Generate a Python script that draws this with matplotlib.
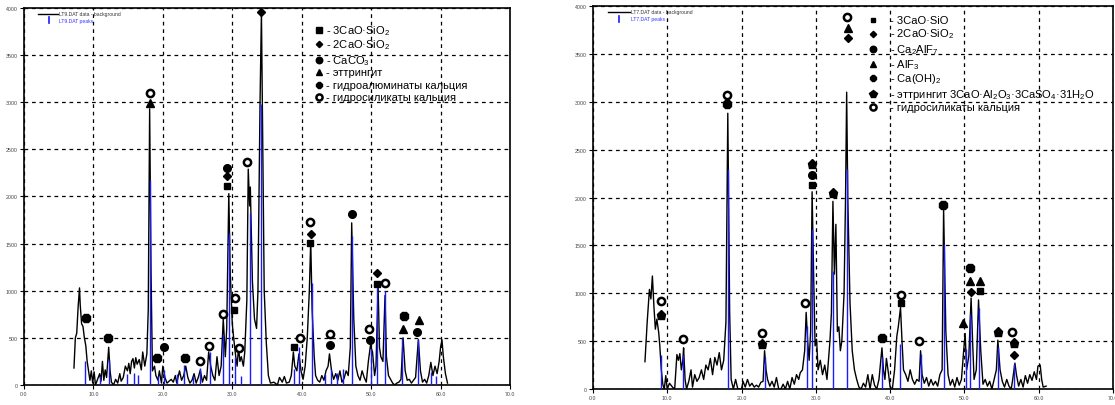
import numpy as np
import matplotlib.pyplot as plt

plt.rcParams['font.family'] = ['Liberation Sans', 'DejaVu Sans']
plt.rcParams['mathtext.fontset'] = 'custom'
plt.rcParams['mathtext.rm'] = 'Liberation Sans'
plt.rcParams['mathtext.default'] = 'regular'

# ---- LT9 sample (left) : measured curve (2theta, counts) ----
lt9_curve = [
    (7.2, 180), (7.4, 500), (7.6, 550), (7.8, 830), (8.0, 1030), (8.1, 850), (8.3, 650),
    (8.5, 620), (8.7, 500), (8.9, 420), (9.1, 250), (9.3, 150), (9.5, 50), (9.7, 150),
    (9.9, 20), (10.1, 140), (10.3, 0), (10.6, 60), (10.9, 120), (11.1, 40), (11.3, 250),
    (11.5, 50), (11.7, 160), (11.9, 80), (12.2, 400), (12.4, 150), (12.6, 30), (12.9, 0),
    (13.2, 60), (13.5, 20), (13.8, 120), (14.0, 40), (14.3, 80), (14.6, 200), (14.9, 150),
    (15.1, 230), (15.3, 120), (15.5, 250), (15.7, 280), (15.9, 180), (16.1, 290), (16.3, 220),
    (16.6, 270), (16.9, 160), (17.1, 350), (17.4, 200), (17.7, 330), (17.9, 800), (18.1, 2930),
    (18.3, 1200), (18.5, 150), (18.8, 200), (19.0, 100), (19.3, 50), (19.5, 150), (19.8, 20),
    (20.0, 200), (20.3, 80), (20.6, 20), (20.9, 40), (21.2, 60), (21.5, 30), (21.8, 100),
    (22.0, 20), (22.4, 150), (22.7, 50), (23.0, 100), (23.3, 200), (23.6, 80), (23.9, 20),
    (24.2, 50), (24.5, 120), (24.8, 20), (25.1, 80), (25.4, 160), (25.7, 30), (26.0, 100),
    (26.3, 50), (26.6, 350), (26.9, 200), (27.2, 100), (27.5, 50), (27.8, 300), (28.1, 100),
    (28.4, 200), (28.7, 700), (29.0, 300), (29.2, 600), (29.5, 2030), (29.7, 1200), (30.0, 650),
    (30.2, 500), (30.5, 300), (30.7, 200), (30.9, 400), (31.1, 250), (31.3, 300), (31.6, 200),
    (31.8, 350), (32.1, 900), (32.3, 2290), (32.5, 1900), (32.6, 2100), (32.9, 1100), (33.2, 700),
    (33.5, 600), (33.7, 1000), (34.0, 3000), (34.2, 3950), (34.4, 2500), (34.6, 1000), (34.9, 450),
    (35.2, 100), (35.5, 20), (36.0, 30), (36.5, 0), (36.8, 80), (37.2, 30), (37.5, 90),
    (37.8, 20), (38.2, 30), (38.5, 100), (38.8, 350), (39.0, 200), (39.3, 150), (39.6, 330),
    (39.9, 150), (40.2, 60), (40.5, 200), (40.8, 500), (41.1, 1000), (41.3, 1530), (41.5, 800),
    (41.8, 300), (42.0, 100), (42.3, 50), (42.6, 30), (42.9, 100), (43.2, 50), (43.5, 150),
    (43.8, 200), (44.0, 330), (44.3, 150), (44.6, 60), (44.9, 120), (45.2, 50), (45.5, 150),
    (45.8, 30), (46.1, 70), (46.4, 150), (46.7, 100), (47.0, 400), (47.2, 1720), (47.5, 700),
    (47.8, 200), (48.1, 100), (48.4, 50), (48.7, 150), (49.0, 80), (49.3, 30), (49.6, 250),
    (49.9, 420), (50.2, 350), (50.5, 100), (50.7, 200), (51.0, 1050), (51.2, 400), (51.4, 300),
    (51.7, 250), (52.0, 950), (52.2, 300), (52.5, 100), (52.8, 60), (53.1, 20), (53.4, 0),
    (53.7, 20), (54.0, 30), (54.3, 60), (54.6, 500), (54.9, 150), (55.2, 50), (55.5, 60),
    (55.8, 20), (56.1, 50), (56.4, 80), (56.8, 480), (57.1, 150), (57.4, 30), (57.7, 60),
    (58.0, 20), (58.3, 100), (58.6, 240), (58.9, 100), (59.2, 200), (59.5, 120), (59.8, 250),
    (60.0, 400), (60.2, 480), (60.4, 300), (60.7, 120), (61.0, 20),
]
lt9_peaks = [
    (8.85, 250), (11.0, 100), (12.3, 260), (14.9, 120), (15.8, 130), (16.4, 110), (18.1, 2180),
    (19.3, 100), (20.1, 160), (22.1, 120), (23.1, 210), (24.4, 100), (25.35, 175), (26.75, 350),
    (28.7, 540), (29.6, 1615), (30.45, 300), (31.2, 100), (32.5, 1825), (34.2, 2980), (38.9, 170),
    (39.6, 400), (41.45, 1085), (43.3, 120), (44.2, 170), (45.1, 130), (45.95, 170), (47.3, 1580),
    (50.0, 380), (50.9, 1030), (51.95, 1000), (54.5, 500), (56.7, 485), (58.65, 140), (59.3, 100),
]
lt9_c3s = [(29.3, 2114), (30.25, 800), (38.9, 398), (41.2, 1508), (50.8, 1075)]
lt9_c2s = [(29.3, 2220), (34.1, 3957), (41.35, 1603), (50.8, 1191)]
lt9_caco3 = [(20.1, 398), (29.3, 2300), (44.05, 426), (47.3, 1811), (49.85, 479), (56.65, 567)]
lt9_ettr = [(18.1, 2988), (54.6, 599), (56.9, 687)]
lt9_hydroal = [(8.95, 708), (12.1, 497), (19.15, 285), (23.2, 285), (54.8, 733)]
lt9_csh = [(18.1, 3094), (25.3, 250), (26.6, 412), (28.6, 750), (30.35, 927), (31.0, 388),
           (32.1, 2368), (39.8, 497), (41.25, 1727), (44.05, 546), (49.7, 592), (51.95, 1078)]

# ---- LT7 sample (right) ----
lt7_curve = [
    (7.0, 285), (7.3, 700), (7.6, 1040), (7.8, 940), (8.0, 1180), (8.2, 870), (8.4, 625),
    (8.6, 730), (8.85, 590), (9.0, 450), (9.2, 200), (9.4, 50), (9.6, 0), (9.8, 140),
    (10.0, 0), (10.3, 60), (10.7, 20), (11.0, 0), (11.3, 360), (11.5, 300), (11.7, 370),
    (11.9, 200), (12.1, 300), (12.2, 430), (12.4, 100), (12.6, 0), (12.9, 80), (13.2, 200),
    (13.4, 20), (13.7, 150), (14.0, 80), (14.3, 120), (14.6, 200), (14.9, 100), (15.2, 250),
    (15.5, 200), (15.8, 320), (16.1, 150), (16.4, 330), (16.7, 250), (17.0, 380), (17.3, 200),
    (17.6, 300), (17.9, 700), (18.15, 2880), (18.4, 800), (18.6, 100), (18.9, 0), (19.2, 100),
    (19.5, 0), (20.0, 0), (20.2, 80), (20.5, 20), (20.8, 100), (21.1, 30), (21.4, 60),
    (21.7, 20), (22.0, 40), (22.3, 20), (22.6, 70), (22.9, 80), (23.1, 400), (23.3, 200),
    (23.5, 100), (23.8, 30), (24.1, 80), (24.4, 20), (24.7, 120), (25.0, 0), (25.3, 0),
    (25.6, 50), (25.9, 0), (26.2, 80), (26.5, 0), (26.8, 120), (27.1, 50), (27.4, 150),
    (27.7, 100), (27.9, 170), (28.2, 200), (28.5, 400), (28.7, 800), (28.9, 500), (29.1, 300),
    (29.3, 600), (29.5, 2060), (29.7, 1200), (29.9, 450), (30.1, 520), (30.3, 200), (30.6, 300),
    (30.9, 150), (31.2, 250), (31.5, 100), (31.7, 300), (31.9, 500), (32.1, 800), (32.3, 1960),
    (32.5, 1200), (32.7, 1720), (32.9, 600), (33.1, 650), (33.3, 400), (33.5, 500), (33.8, 1000),
    (34.0, 2000), (34.15, 3100), (34.3, 2000), (34.6, 900), (34.9, 400), (35.2, 200), (35.5, 100),
    (35.8, 20), (36.1, 0), (36.4, 60), (36.7, 20), (37.0, 150), (37.3, 0), (37.6, 150),
    (37.9, 40), (38.2, 0), (38.5, 100), (38.9, 430), (39.1, 200), (39.3, 100), (39.5, 320),
    (39.8, 150), (40.0, 20), (40.3, 0), (40.6, 200), (40.9, 550), (41.1, 650), (41.4, 850),
    (41.6, 500), (41.8, 200), (42.1, 150), (42.4, 80), (42.7, 200), (43.0, 100), (43.3, 50),
    (43.6, 100), (43.9, 80), (44.1, 400), (44.3, 150), (44.6, 60), (44.9, 120), (45.2, 30),
    (45.5, 100), (45.8, 40), (46.1, 80), (46.4, 30), (46.7, 150), (47.0, 200), (47.2, 1880),
    (47.5, 600), (47.8, 150), (48.1, 40), (48.4, 100), (48.7, 20), (49.0, 120), (49.3, 40),
    (49.6, 100), (49.9, 400), (50.1, 580), (50.3, 200), (50.6, 350), (50.9, 950), (51.1, 500),
    (51.3, 100), (51.6, 200), (51.9, 930), (52.2, 400), (52.5, 50), (52.8, 100), (53.1, 30),
    (53.4, 80), (53.7, 0), (54.0, 100), (54.3, 200), (54.5, 510), (54.8, 200), (55.1, 80),
    (55.4, 20), (55.7, 100), (56.0, 30), (56.3, 0), (56.5, 100), (56.8, 270), (57.0, 150),
    (57.3, 30), (57.6, 100), (57.9, 20), (58.2, 140), (58.5, 60), (58.8, 150), (59.1, 90),
    (59.4, 180), (59.7, 100), (59.9, 240), (60.2, 250), (60.4, 100), (60.6, 20), (61.0, 30),
]
lt7_peaks = [
    (9.1, 355), (12.1, 355), (18.2, 2295), (23.1, 330), (28.8, 660), (29.5, 1670), (32.3, 1235),
    (34.2, 2295), (38.9, 330), (41.35, 470), (44.1, 365), (47.2, 1510), (50.2, 420), (50.8, 780),
    (52.0, 850), (54.5, 435), (56.7, 260),
]
lt7_c3s = [(29.45, 2135), (41.45, 894), (52.1, 1026)]
lt7_c2s = [(34.3, 3662), (50.9, 1016), (56.65, 358)]
lt7_ca2alf7 = [(29.45, 2233)]
lt7_alf3 = [(34.3, 3774), (49.8, 689), (50.7, 1130), (52.1, 1130)]
lt7_caoh2 = [(18.05, 2974), (38.9, 529), (47.1, 1923), (50.7, 1266)]
lt7_ettr = [(9.15, 770), (22.8, 470), (29.55, 2348), (32.3, 2045), (54.5, 591), (56.65, 480)]
lt7_csh = [(9.1, 914), (12.1, 522), (18.05, 3068), (22.8, 580), (28.6, 897), (34.2, 3885),
           (41.4, 984), (43.9, 504), (56.4, 591)]

lt9_legend = ['- 3CaO·SiO$_2$', '- 2CaO·SiO$_2$', '- CaCO$_3$', '- эттрингит',
              '- гидроалюминаты кальция', '- гидросиликаты кальция']
lt7_legend = ['- 3CaO·SiO', '- 2CaO·SiO$_2$', '- Ca$_2$AlF$_7$', '- AlF$_3$', '- Ca(OH)$_2$',
              '- эттрингит 3CaO·Al$_2$O$_3$·3CaSO$_4$·31H$_2$O', '- гидросиликаты кальция']

xticks = [0, 10, 20, 30, 40, 50, 60, 70]
yticks = [0, 500, 1000, 1500, 2000, 2500, 3000, 3500, 4000]

ring = dict(marker='o', mfc='white', mec='black', mew=1.8, ms=5.2)
styles = {
    'sq': dict(marker='s', color='black', ms=5),
    'sqs': dict(marker='s', color='black', ms=4.2),
    'dm': dict(marker='D', color='black', ms=3.8),
    'ci': dict(marker='o', color='black', ms=5.5),
    'tr': dict(marker='^', color='black', ms=5.5),
    'oc': dict(marker='8', color='black', ms=6),
    'pe': dict(marker='p', color='black', ms=6.5),
    'ring': ring,
}


def draw_panel(ax, curve, peaks, marks, legend, leg_x, leg_ys, name):
    c = np.array(curve)
    p = np.array(peaks)
    ax.plot(c[:, 0], c[:, 1], color='black', lw=1.0, zorder=3)
    ax.vlines(p[:, 0], 0, p[:, 1], color='#1a1aff', lw=1.0, zorder=4)
    for kind, pts in marks:
        a = np.array(pts)
        ax.plot(a[:, 0], a[:, 1], ls='none', zorder=5, **styles[kind])

    ax.set_xlim(0, 70)
    ax.set_ylim(0, 4000)
    ax.set_xticks(xticks)
    ax.set_xticklabels(['%.1f' % v for v in xticks])
    ax.set_yticks(yticks)
    ax.set_yticklabels([str(v) for v in yticks])
    ax.tick_params(labelsize=3.8, length=3, width=0.8, colors='black', labelcolor='#444444', pad=1.5)
    ax.grid(True, color='black', ls=(0, (3, 3)), lw=0.9)
    for s in ax.spines.values():
        s.set_linewidth(1.2)

    # legend of phases
    for (kind, _), lab, y in zip(marks, legend, leg_ys):
        st = dict(styles[kind])
        st['ms'] = st['ms'] * 0.85
        ax.plot([leg_x[0]], [y], ls='none', transform=ax.transAxes, clip_on=False,
                zorder=6, **st)
        ax.text(leg_x[1], y, lab, transform=ax.transAxes, fontsize=8, va='center', ha='left')

    # data / peaks key
    ax.plot([0.028, 0.071], [0.985, 0.985], color='black', lw=1.0, transform=ax.transAxes)
    ax.text(0.073, 0.985, name + ' data - background', fontsize=3.6, va='center',
            transform=ax.transAxes, color='#333333')
    ax.plot([0.051, 0.051], [0.959, 0.975], color='#1a1aff', lw=1.2, transform=ax.transAxes)
    ax.text(0.073, 0.967, name + ' peaks', fontsize=3.6, va='center',
            transform=ax.transAxes, color='#3333ff')


fig = plt.figure(figsize=(11.15, 4.06), dpi=100)
ax1 = fig.add_axes([0.0215, 0.0493, 0.4359, 0.9286])
ax2 = fig.add_axes([0.5318, 0.0394, 0.4664, 0.9433])

marks9 = [('sq', lt9_c3s), ('dm', lt9_c2s), ('ci', lt9_caco3), ('tr', lt9_ettr),
          ('oc', lt9_hydroal), ('ring', lt9_csh)]
draw_panel(ax1, lt9_curve, lt9_peaks, marks9, lt9_legend, (0.607, 0.621),
           [0.942, 0.905, 0.863, 0.829, 0.796, 0.763], 'LT9.DAT')

marks7 = [('sqs', lt7_c3s), ('dm', lt7_c2s), ('ci', lt7_ca2alf7), ('tr', lt7_alf3),
          ('oc', lt7_caoh2), ('pe', lt7_ettr), ('ring', lt7_csh)]
draw_panel(ax2, lt7_curve, lt7_peaks, marks7, lt7_legend, (0.5385, 0.571),
           [0.964, 0.928, 0.888, 0.849, 0.811, 0.770, 0.736], 'LT7.DAT')

fig.savefig('out.png', dpi=100)
